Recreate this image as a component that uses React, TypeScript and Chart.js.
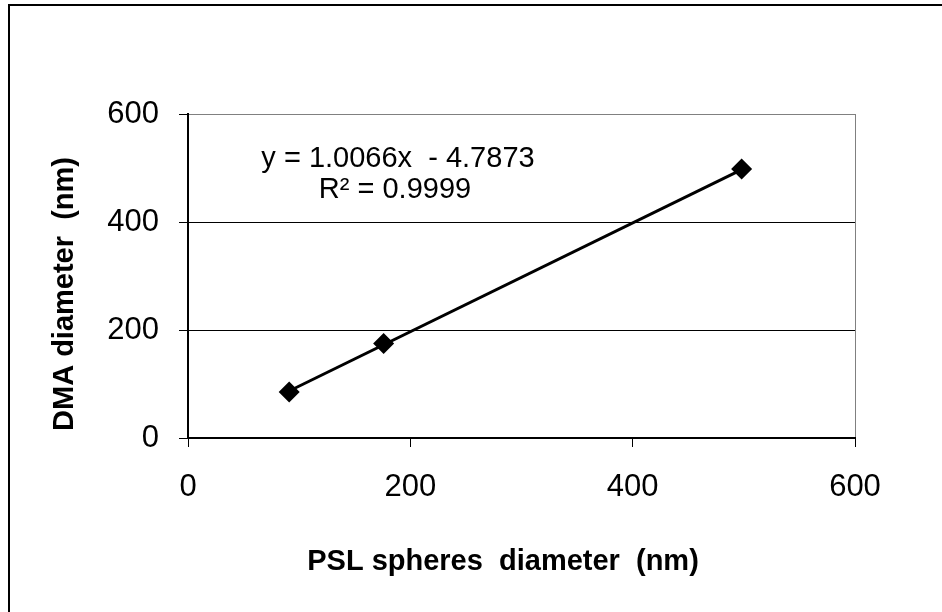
import React, { useEffect, useRef } from "react";
import { Chart, registerables } from "chart.js";

Chart.register(...registerables);

// ---- data ----
const pslDiameter = [91, 176, 498];
const dmaDiameter = [85, 175, 498];
const trendX = [91, 498];
const trendY = [87, 497];
const xTicks = [0, 200, 400, 600];
const yTicks = [0, 200, 400, 600];
const equationLines = ["y = 1.0066x  - 4.7873", "R\u00B2 = 0.9999"];
const xTitle = "PSL spheres  diameter  (nm)";
const yTitle = "DMA diameter  (nm)";

const FONT = '"Liberation Sans", Arial, Helvetica, sans-serif';

const labelsPlugin = {
  id: "labels",
  afterDatasetsDraw(chart: any) {
    const { ctx, chartArea } = chart;
    ctx.save();
    ctx.fillStyle = "#000";
    // trendline equation
    ctx.font = `29px ${FONT}`;
    ctx.textBaseline = "alphabetic";
    ctx.textAlign = "center";
    ctx.fillText(equationLines[0], chartArea.left + 210, chartArea.top + 52.5);
    ctx.fillText(equationLines[1], chartArea.left + 207, chartArea.top + 84);
    // axis titles
    ctx.font = `bold 29px ${FONT}`;
    ctx.fillText(xTitle, chartArea.left + 315, chartArea.bottom + 132);
    ctx.translate(73, chartArea.top + 180);
    ctx.rotate(-Math.PI / 2);
    ctx.fillText(yTitle, 0, 0);
    ctx.restore();
  },
};

export default function App() {
  const canvasRef = useRef<HTMLCanvasElement | null>(null);

  useEffect(() => {
    if (!canvasRef.current) return;
    const points = pslDiameter.map((x, i) => ({ x, y: dmaDiameter[i] }));
    const trend = trendX.map((x, i) => ({ x, y: trendY[i] }));

    const chart = new Chart(canvasRef.current, {
      type: "scatter",
      data: {
        datasets: [
          {
            label: "data",
            data: points,
            showLine: false,
            pointStyle: "rectRot",
            pointRadius: 10.5,
            pointBackgroundColor: "#000",
            pointBorderColor: "#000",
            pointBorderWidth: 0,
          },
          {
            label: "trend",
            data: trend,
            showLine: true,
            borderColor: "#000",
            borderWidth: 3,
            pointRadius: 0,
            fill: false,
          },
        ],
      },
      options: {
        animation: false,
        responsive: false,
        devicePixelRatio: 1,
        layout: { padding: { left: 0, top: 114, right: 87, bottom: 0 } },
        plugins: {
          legend: { display: false },
          tooltip: { enabled: false },
        },
        scales: {
          x: {
            type: "linear",
            min: 0,
            max: 600,
            afterBuildTicks: (s: any) => {
              s.ticks = xTicks.map((v) => ({ value: v }));
            },
            afterFit: (s: any) => {
              s.height = 174;
            },
            ticks: {
              font: { family: FONT, size: 31 },
              color: "#000",
              padding: 22,
            },
            grid: {
              color: (c: any) => (c.tick && c.tick.value === 600 ? "#808080" : "rgba(0,0,0,0)"),
              tickColor: "#000",
              tickLength: 9,
              lineWidth: 1,
            },
            border: { color: "#000", width: 2 },
          },
          y: {
            type: "linear",
            min: 0,
            max: 600,
            afterBuildTicks: (s: any) => {
              s.ticks = yTicks.map((v) => ({ value: v }));
            },
            afterFit: (s: any) => {
              s.width = 188;
            },
            ticks: {
              font: { family: FONT, size: 31 },
              color: "#000",
              padding: 20,
            },
            grid: {
              color: (c: any) => (c.tick && c.tick.value === 600 ? "#808080" : "#000"),
              tickColor: "#000",
              tickLength: 9,
              lineWidth: 1,
            },
            border: { color: "#000", width: 2 },
          },
        },
      },
      plugins: [labelsPlugin],
    } as any);

    return () => chart.destroy();
  }, []);

  return (
    <div>
      <div
        style={{
          position: "fixed",
          left: 8,
          top: 4,
          width: 934,
          height: 608,
          borderLeft: "2px solid #000",
          borderTop: "2px solid #000",
          boxSizing: "border-box",
          background: "#fff",
        }}
      />
      <canvas
        ref={canvasRef}
        width={942}
        height={612}
        style={{ position: "fixed", left: 0, top: 0, width: 942, height: 612 }}
      />
    </div>
  );
}
